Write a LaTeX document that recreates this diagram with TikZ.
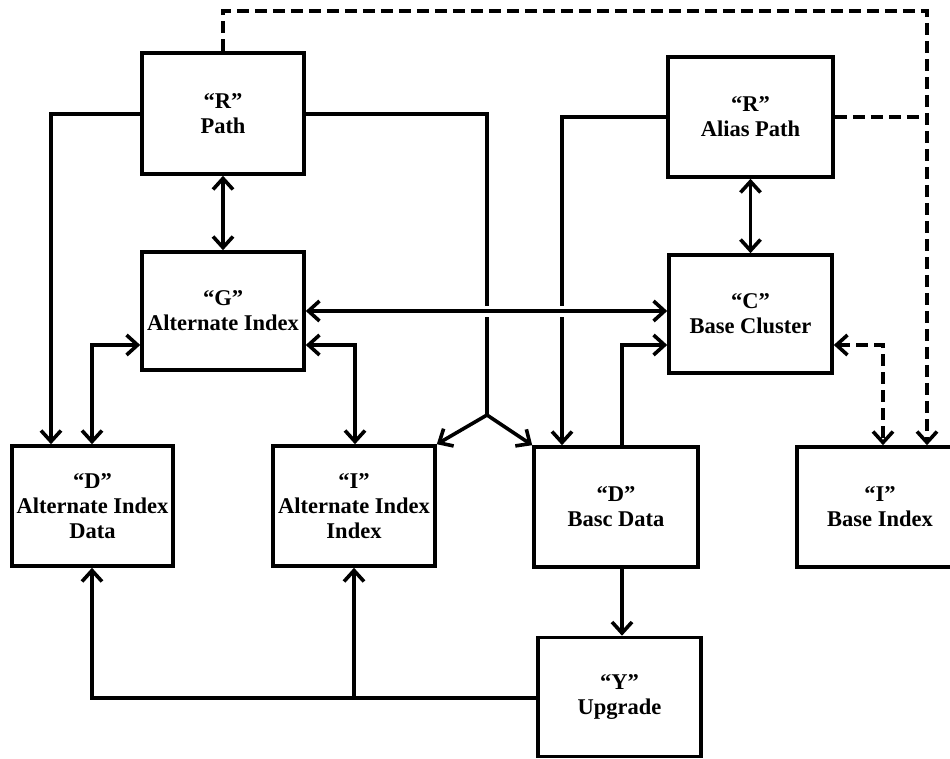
\documentclass[tikz,border=0pt]{standalone}
\usepackage{fontspec}
\setmainfont{Liberation Serif}
\usetikzlibrary{arrows.meta}
\begin{document}
\begin{tikzpicture}[x=1pt,y=-1pt,
  line width=3.6pt,
  box/.style={draw, rectangle, align=center, inner sep=0pt,
    font=\bfseries\fontsize{22.5}{25}\selectfont},
  arr/.style={-{Straight Barb[length=11pt,width=20pt]}},
  dbl/.style={{Straight Barb[length=11pt,width=20pt]}-{Straight Barb[length=11pt,width=20pt]}},
  dsh/.style={dash pattern=on 12pt off 6pt},
  gapline/.style={draw=white, line width=11pt}]
\useasboundingbox (0,0) rectangle (950,759);
\clip (0,0) rectangle (950,759);

% boxes
\node[box, minimum width=162pt, minimum height=121pt] (rpath) at (223,113.5) {“R”\\Path};
\node[box, minimum width=165pt, minimum height=120pt] (alias) at (750.5,117) {“R”\\Alias Path};
\node[box, minimum width=162pt, minimum height=118pt] (gidx)  at (223,311) {“G”\\Alternate Index};
\node[box, minimum width=163pt, minimum height=118pt] (cclu)  at (750.5,314) {“C”\\Base Cluster};
\node[box, minimum width=161pt, minimum height=120pt] (dalt)  at (92.5,506) {“D”\\Alternate Index\\Data};
\node[box, minimum width=162pt, minimum height=120pt] (ialt)  at (354,506) {“I”\\Alternate Index\\Index};
\node[box, minimum width=164pt, minimum height=120pt] (dbase) at (616,507) {“D”\\Basc Data};
\node[box, minimum width=166pt, minimum height=120pt] (ibase) at (880,507) {“I”\\Base Index};
\node[box, minimum width=163pt, minimum height=119pt] (yup)   at (619.5,697) {“Y”\\Upgrade};

% routing points
\coordinate (c1)  at (51,114);
\coordinate (jn)  at (487,415);
\coordinate (top) at (927,11);
\coordinate (c6)  at (562,116);
\coordinate (c9)  at (92,345);
\coordinate (c10) at (355,345);
\coordinate (c11) at (622,345);
\coordinate (c12) at (883,345);
\coordinate (c14) at (92,698);
\coordinate (hx)  at (0,311);

% path connectors
\draw[arr] (rpath.west |- c1) -| (dalt.north -| c1);
\draw (rpath.east |- c1) -| (jn);
\draw[arr] (jn) -- (ialt.north east);
\draw[arr] (jn) -- (dbase.north west);
\draw[dbl] (rpath.south) -- (gidx.north);
\draw[arr] (alias.west) -| (dbase.north -| c6);
\draw[dbl] (alias.south) -- (cclu.north);

% dashed links to the base index
\draw[dsh, arr] (rpath.north) |- (top) -- (ibase.north -| top);
\draw[dsh] (alias.east) -- (alias.east -| top);
\draw[dsh, dbl] (cclu.east |- c12) -| (ibase.north -| c12);

% index and data links
\draw[dbl] (gidx.west |- c9) -| (dalt.north -| c9);
\draw[dbl] (gidx.east |- c10) -| (ialt.north -| c10);
\draw[arr] (dbase.north -| c11) |- (cclu.west |- c11);
\draw[arr] (dbase.south -| c11) -- (yup.north -| c11);

% upgrade links
\draw[arr] (yup.west |- c14) -| (dalt.south -| c14);
\draw[arr] (c14 -| ialt.south) -- (ialt.south);

% alternate index to base cluster, with breaks in the lines it crosses
\path[gapline] ([xshift=-4pt]jn |- hx) -- ([xshift=4pt]jn |- hx);
\path[gapline] ([xshift=-4pt]c6 |- hx) -- ([xshift=4pt]c6 |- hx);
\draw[dbl] (gidx.east |- hx) -- (cclu.west |- hx);
\end{tikzpicture}
\end{document}
